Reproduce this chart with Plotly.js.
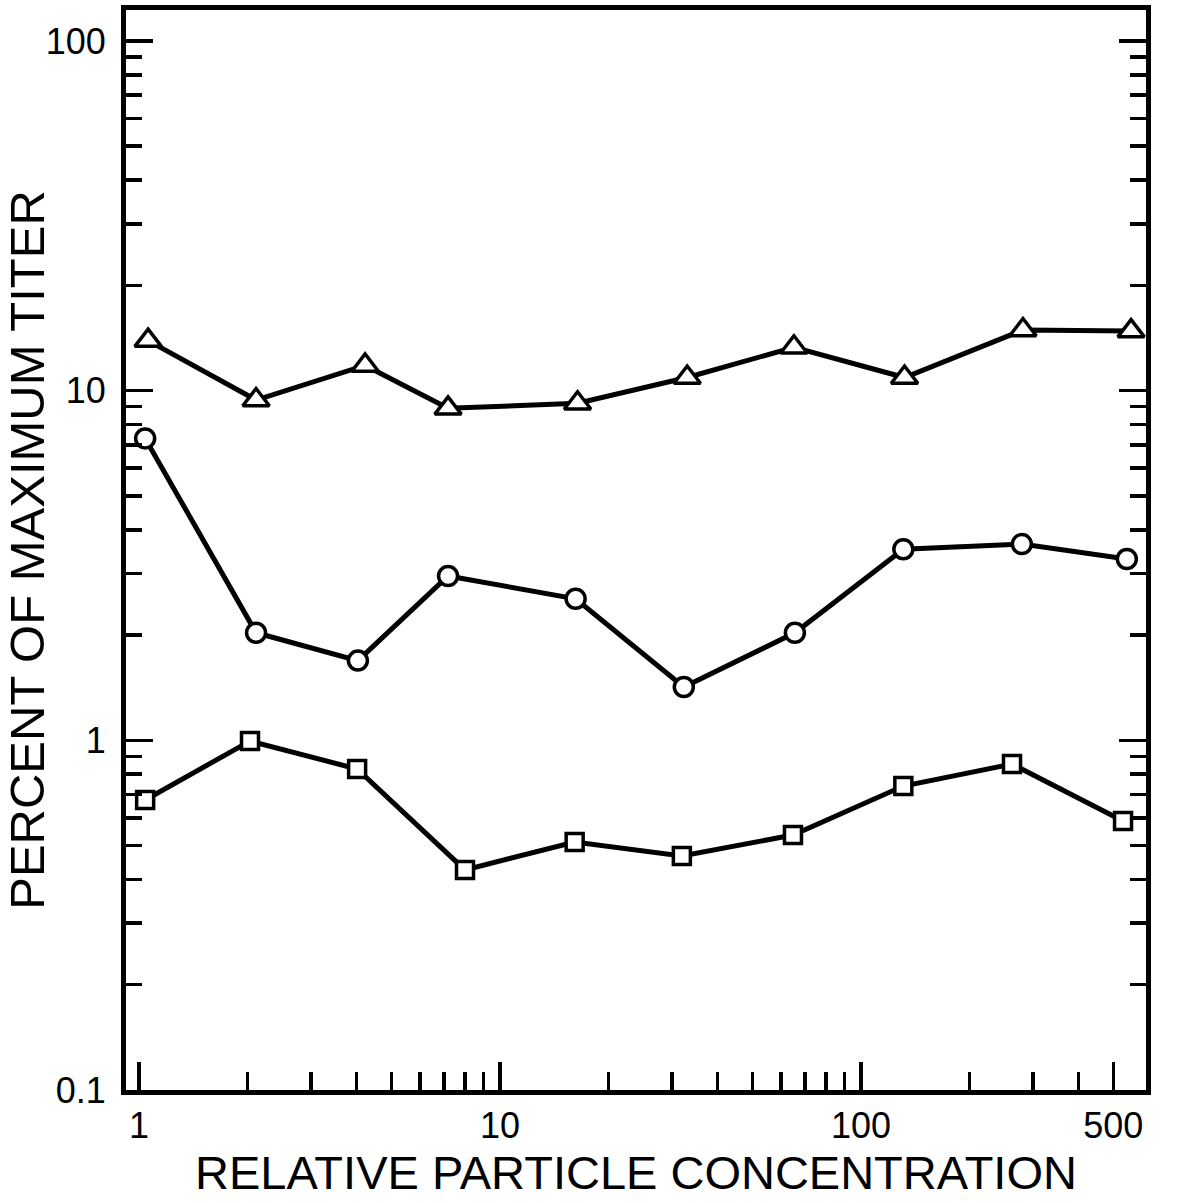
<!DOCTYPE html>
<html>
<head>
<meta charset="utf-8">
<script src="https://cdn.plot.ly/plotly-3.0.1.min.js"></script>
<style>html,body{margin:0;padding:0;background:#fff;}</style>
</head>
<body>
<div id="chart" style="width:1198px;height:1203px;"></div>
<script>
// Relative particle concentration (x) and percent of maximum titer (y) for each series
const triangleX = [1.06, 2.11, 4.23, 7.18, 16.4, 33.0, 65.2, 132, 281, 560];
const triangleY = [13.9, 9.4, 11.8, 8.9, 9.2, 10.9, 13.3, 10.9, 14.9, 14.8];

const circleX = [1.04, 2.11, 4.04, 7.18, 16.2, 32.3, 65.6, 131, 279, 545];
const circleY = [7.3, 2.03, 1.69, 2.95, 2.54, 1.42, 2.03, 3.52, 3.64, 3.3];

const squareX = [1.04, 2.03, 4.02, 8.0, 16.1, 31.9, 64.8, 131, 262, 532];
const squareY = [0.675, 0.995, 0.828, 0.426, 0.512, 0.467, 0.536, 0.74, 0.855, 0.588];

// Axis ticks
const xTickVals = [1, 10, 100, 500];
const xTickText = ['1', '10', '100', '500'];
const xMinorVals = [2,3,4,5,6,7,8,9,20,30,40,50,60,70,80,90,200,300,400];
const yTickVals = [0.1, 1, 10, 100];
const yTickText = ['0.1', '1', '10', '100'];
const yMinorVals = [0.2,0.3,0.4,0.5,0.6,0.7,0.8,0.9,2,3,4,5,6,7,8,9,20,30,40,50,60,70,80,90];

const xTitle = 'RELATIVE PARTICLE CONCENTRATION';
const yTitle = 'PERCENT OF MAXIMUM TITER';

const lineStyle = {color: '#000', width: 5};
function series(x, y, symbol, size) {
  return {
    x: x, y: y, type: 'scatter', mode: 'lines+markers',
    line: lineStyle,
    marker: {symbol: symbol, size: size, color: '#fff', line: {color: '#000', width: 3.5}},
    showlegend: false, hoverinfo: 'skip'
  };
}

const data = [
  series(triangleX, triangleY, 'triangle-up', 23),
  series(circleX, circleY, 'circle', 19),
  series(squareX, squareY, 'square', 17)
];

const fontFamily = 'Liberation Sans, Arial, sans-serif';

const layout = {
  width: 1198, height: 1203, autosize: false,
  margin: {l: 126, r: 52, t: 10, b: 113},
  paper_bgcolor: '#fff', plot_bgcolor: '#fff',
  font: {family: fontFamily, color: '#000'},
  xaxis: {
    type: 'log',
    range: [-0.036, 2.7895],
    tickmode: 'array', tickvals: xTickVals, ticktext: xTickText,
    ticks: 'inside', ticklen: 28, tickwidth: 3.5, tickcolor: '#000',
    minor: {tickmode: 'array', tickvals: xMinorVals, ticks: 'inside', ticklen: 18, tickwidth: 3.5, tickcolor: '#000', showgrid: false},
    showline: true, linewidth: 5, linecolor: '#000', mirror: true,
    showgrid: false, zeroline: false,
    tickfont: {size: 36, family: fontFamily, color: '#000'},
    ticklabelstandoff: 0,
    title: {text: xTitle, font: {size: 47, family: fontFamily, color: '#000'}, standoff: 4},
    automargin: false
  },
  yaxis: {
    type: 'log',
    range: [-1, 2.0884],
    tickmode: 'array', tickvals: yTickVals, ticktext: yTickText,
    ticks: 'inside', ticklen: 27, tickwidth: 3.5, tickcolor: '#000',
    minor: {tickmode: 'array', tickvals: yMinorVals, ticks: 'inside', ticklen: 16, tickwidth: 3.5, tickcolor: '#000', showgrid: false},
    showline: true, linewidth: 5, linecolor: '#000', mirror: 'ticks',
    showgrid: false, zeroline: false,
    tickfont: {size: 36, family: fontFamily, color: '#000'},
    ticklabelstandoff: 8,
    title: {text: yTitle, font: {size: 49, family: fontFamily, color: '#000'}, standoff: 6},
    automargin: false
  }
};

Plotly.newPlot('chart', data, layout, {displayModeBar: false, staticPlot: true});
</script>
</body>
</html>
